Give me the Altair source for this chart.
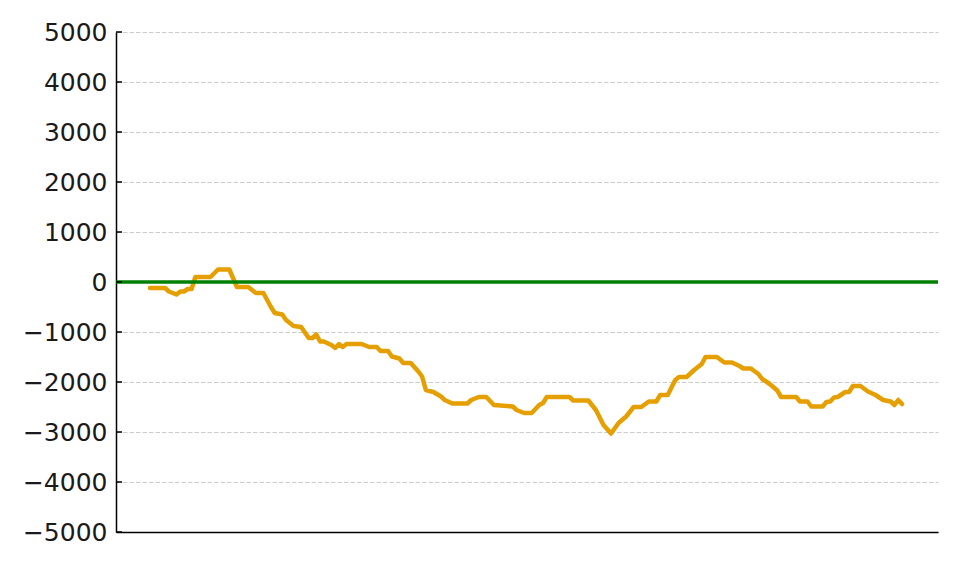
import altair as alt
import pandas as pd

# Walk index (x) and cumulative value (y)
steps = [0, 4, 5, 7, 8, 9, 10, 11, 12, 16, 18, 21, 23, 26, 28, 30, 32, 33, 35, 36,
         38, 40, 42, 43, 44, 45, 46, 48, 49, 50, 51, 52, 56, 58, 60, 61, 63, 64, 66, 67,
         69, 71, 72, 73, 75, 77, 78, 80, 84, 85, 87, 89, 91, 96, 97, 99, 101, 103, 104, 105,
         111, 112, 116, 118, 120, 122, 124, 126, 128, 130, 132, 134, 135, 137, 139, 140, 142, 144, 146, 147,
         150, 152, 154, 156, 157, 159, 161, 162, 164, 166, 167, 171, 172, 174, 175, 178, 179, 180, 181, 182,
         184, 185, 186, 188, 190, 192, 194, 196, 197, 198, 199]
values = [-120, -120, -190, -250, -190, -190, -140, -140, 100, 100, 250, 250, -100, -100, -220, -220, -500, -620, -650, -760,
          -880, -900, -1120, -1120, -1050, -1190, -1190, -1260, -1320, -1240, -1300, -1240, -1240, -1300, -1300, -1380, -1380, -1490, -1530, -1620,
          -1620, -1790, -1890, -2160, -2200, -2290, -2360, -2430, -2430, -2360, -2300, -2300, -2460, -2490, -2560, -2620, -2620, -2460, -2420, -2300,
          -2300, -2370, -2370, -2560, -2860, -3030, -2820, -2690, -2500, -2500, -2390, -2390, -2260, -2260, -1960, -1900, -1900, -1760, -1640, -1500,
          -1500, -1610, -1610, -1680, -1730, -1730, -1840, -1940, -2040, -2170, -2300, -2300, -2390, -2390, -2490, -2490, -2400, -2390, -2310, -2300,
          -2200, -2200, -2080, -2080, -2190, -2260, -2360, -2390, -2460, -2360, -2440]
y_ticks = [-5000, -4000, -3000, -2000, -1000, 0, 1000, 2000, 3000, 4000, 5000]
zero_level = [0]

df = pd.DataFrame({"step": steps, "value": values})
ticks_df = pd.DataFrame({"value": y_ticks})
zero_df = pd.DataFrame({"value": zero_level})

x_scale = alt.Scale(domain=[-9.0, 208.53], nice=False, zero=False)
y_scale = alt.Scale(domain=[-5000, 5000], nice=False)

y_axis = alt.Axis(values=y_ticks, format="d", title=None, grid=True, gridDash=[4.5, 2],
                  gridColor="#cccccc", gridWidth=1,
                  labelFontSize=25, labelFont="DejaVu Sans", labelColor="#1a1a1a",
                  ticks=False, tickSize=0, labelPadding=9,
                  domain=True, domainColor="black", domainWidth=1.5)
x_axis = alt.Axis(labels=False, ticks=False, grid=False, title=None,
                  domain=True, domainColor="black", domainWidth=1.5)

line = alt.Chart(df).mark_line(
    color="#E69F00", strokeWidth=4.5, strokeJoin="round", strokeCap="round"
).encode(
    x=alt.X("step:Q", scale=x_scale, axis=x_axis),
    y=alt.Y("value:Q", scale=y_scale, axis=y_axis),
)

zero = alt.Chart(zero_df).mark_rule(color="#008000", strokeWidth=3.5).encode(
    y=alt.Y("value:Q", scale=y_scale, axis=y_axis)
)

tickmarks = alt.Chart(ticks_df).mark_rule(color="black", strokeWidth=1.5).encode(
    y=alt.Y("value:Q", scale=y_scale, axis=y_axis),
    x=alt.value(0),
    x2=alt.value(6),
)

chart = alt.layer(line, zero, tickmarks).properties(
    width=822,
    height=500,
    autosize=alt.AutoSizeParams(type="none"),
    padding={"left": 108, "top": 24, "right": 6, "bottom": 30},
    background="white",
).configure_view(stroke=None).configure_axis(domainColor="black")

chart.save("out.html", embed_options={"renderer": "svg", "actions": False})
